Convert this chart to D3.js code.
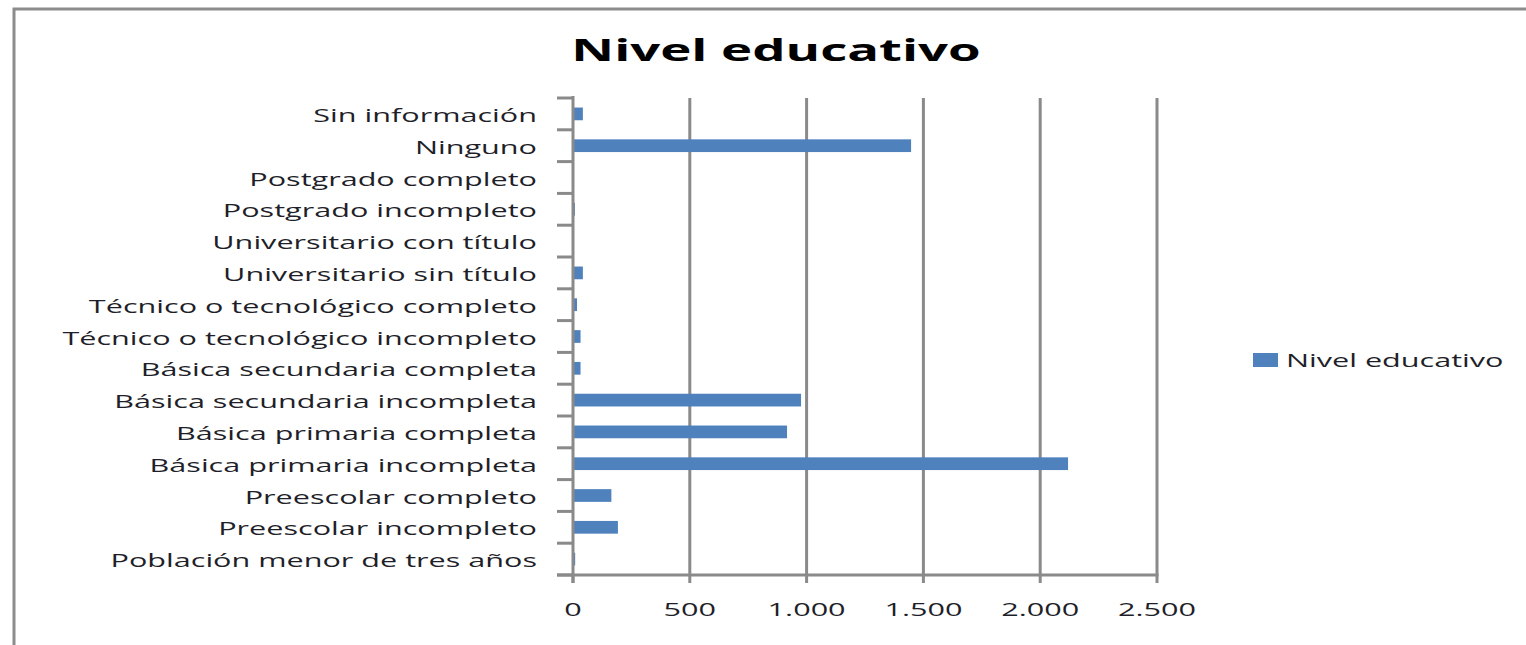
<!DOCTYPE html>
<html>
<head>
<meta charset="utf-8">
<script src="https://cdn.jsdelivr.net/npm/d3@7"></script>
<style>
  html, body { margin: 0; padding: 0; background: #fff; }
  svg { display: block; }
  text { font-family: "Open Sans", sans-serif; fill: #1f1f2a; }
</style>
</head>
<body>
<svg id="chart" width="1526" height="645"></svg>
<script>
// ---- data ----
const chartTitle = "Nivel educativo";
const seriesName = "Nivel educativo";
const categories = [
  "Población menor de tres años",
  "Preescolar incompleto",
  "Preescolar completo",
  "Básica primaria incompleta",
  "Básica primaria completa",
  "Básica secundaria incompleta",
  "Básica secundaria completa",
  "Técnico o tecnológico incompleto",
  "Técnico o tecnológico completo",
  "Universitario sin título",
  "Universitario con título",
  "Postgrado incompleto",
  "Postgrado completo",
  "Ninguno",
  "Sin información"
];
const values = [5, 188, 160, 2115, 912, 972, 28, 28, 13, 38, 0, 4, 0, 1443, 38];
const xTicks = [0, 500, 1000, 1500, 2000, 2500];
const xTickLabels = ["0", "500", "1.000", "1.500", "2.000", "2.500"];

// ---- layout ----
const SX = 1.7; // horizontal stretch of the original picture's text
const svg = d3.select("#chart");
const plot = { left: 573, right: 1157, top: 98, bottom: 575 };
const barColor = "#4f81bd";
const gridColor = "#8a8a8a";

// outer frame
svg.append("rect")
  .attr("x", 14).attr("y", 9).attr("width", 1600).attr("height", 700)
  .attr("fill", "#fff").attr("stroke", "#8c8c8c").attr("stroke-width", 3);

const x = d3.scaleLinear().domain([0, 2500]).range([plot.left, plot.right]);
// first category at the bottom
const y = d3.scaleBand().domain(categories.slice().reverse())
  .range([plot.top, plot.bottom]).paddingInner(0.6).paddingOuter(0.3);

// gridlines
svg.append("g").selectAll("line").data(xTicks.filter(d => d > 0)).join("line")
  .attr("x1", d => x(d)).attr("x2", d => x(d))
  .attr("y1", plot.top).attr("y2", plot.bottom)
  .attr("stroke", gridColor).attr("stroke-width", 3);

// bars
svg.append("g").selectAll("rect").data(categories).join("rect")
  .attr("x", x(0) + 1)
  .attr("y", d => y(d))
  .attr("width", (d, i) => Math.max(0, x(values[i]) - x(0)))
  .attr("height", y.bandwidth())
  .attr("fill", barColor);

// y axis line + category ticks (band boundaries)
const boundaries = d3.range(categories.length + 1).map(i => plot.top + i * (plot.bottom - plot.top) / categories.length);
svg.append("line")
  .attr("x1", plot.left).attr("x2", plot.left)
  .attr("y1", plot.top - 2).attr("y2", plot.bottom + 8)
  .attr("stroke", gridColor).attr("stroke-width", 3);
svg.append("g").selectAll("line").data(boundaries).join("line")
  .attr("x1", plot.left - 16).attr("x2", plot.left)
  .attr("y1", d => d).attr("y2", d => d)
  .attr("stroke", gridColor).attr("stroke-width", 3);

// x axis line + ticks
svg.append("line")
  .attr("x1", plot.left - 16).attr("x2", x(2500) + 1.5)
  .attr("y1", plot.bottom).attr("y2", plot.bottom)
  .attr("stroke", gridColor).attr("stroke-width", 3);
svg.append("g").selectAll("line").data(xTicks).join("line")
  .attr("x1", d => x(d)).attr("x2", d => x(d))
  .attr("y1", plot.bottom).attr("y2", plot.bottom + 8)
  .attr("stroke", gridColor).attr("stroke-width", 3);

// x tick labels
svg.append("g").selectAll("text").data(xTicks).join("text")
  .attr("transform", d => `translate(${x(d)},${plot.bottom + 41}) scale(${SX},1)`)
  .attr("text-anchor", "middle")
  .attr("font-size", 18)
  .text((d, i) => xTickLabels[i]);

// category labels
svg.append("g").selectAll("text").data(categories).join("text")
  .attr("transform", d => `translate(537,${y(d) + y.bandwidth() / 2 + 8}) scale(${SX},1)`)
  .attr("text-anchor", "end")
  .attr("font-size", 18)
  .text(d => d);

// title
svg.append("text")
  .attr("transform", `translate(776,61) scale(${SX},1)`)
  .attr("text-anchor", "middle")
  .attr("font-size", 31)
  .attr("font-weight", "bold")
  .style("fill", "#000")
  .text(chartTitle);

// legend
svg.append("rect").attr("x", 1253).attr("y", 353).attr("width", 25).attr("height", 14).attr("fill", barColor);
svg.append("text")
  .attr("transform", `translate(1286,367) scale(${SX},1)`)
  .attr("font-size", 18)
  .text(seriesName);
</script>
</body>
</html>
